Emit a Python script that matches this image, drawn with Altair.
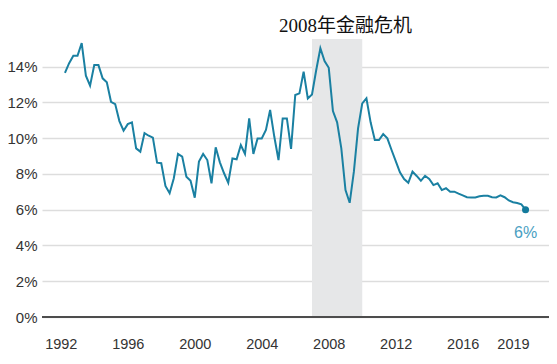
import altair as alt
import pandas as pd

# Quarterly growth (%), first value is 1992 Q2, last is 2019 Q4
growth = [
    13.66, 14.2, 14.61,
    14.61, 15.32, 13.5, 12.94,
    14.09, 14.09, 13.35, 13.13,
    12.04, 11.91, 10.96, 10.42,
    10.79, 10.89, 9.43, 9.25,
    10.29, 10.14, 10.03, 8.63,
    8.6, 7.33, 6.92, 7.76,
    9.12, 8.97, 7.85, 7.62,
    6.67, 8.69, 9.12, 8.78,
    7.48, 9.49, 8.65, 8.04,
    7.51, 8.87, 8.82, 9.62,
    9.12, 11.11, 9.12, 9.99,
    9.99, 10.46, 11.58, 10.08,
    8.78, 11.11, 11.11, 9.4,
    12.42, 12.51, 13.72, 12.23,
    12.45, 13.8, 15.03, 14.32,
    13.94, 11.52, 10.89, 9.43,
    7.1, 6.39, 8.13, 10.55,
    11.95, 12.23, 10.89, 9.9,
    9.9, 10.23, 9.99, 9.34,
    8.72, 8.09, 7.72, 7.51,
    8.13, 7.89, 7.62, 7.9,
    7.72, 7.38, 7.48, 7.1,
    7.2, 7.01, 7.01, 6.9,
    6.8, 6.7, 6.69, 6.69,
    6.75, 6.78, 6.78, 6.7,
    6.69, 6.8, 6.7, 6.52,
    6.42, 6.38, 6.3, 6.0,
]
start_year = 1992
start_quarter = 2
x_tick_labels = [1992, 1996, 2000, 2004, 2008, 2012, 2016, 2019]
y_tick_values = [0, 2, 4, 6, 8, 10, 12, 14]
crisis_start = [2007.0]
crisis_end = [2010.0]
crisis_label = ["2008年金融危机"]

time = [start_year + (start_quarter - 1 + i) / 4 for i in range(len(growth))]
df = pd.DataFrame({"t": time, "g": growth})
last = df.tail(1).copy()
last["label"] = [f"{v:.0f}%" for v in last["g"]]

crisis = pd.DataFrame({
    "start": crisis_start,
    "end": crisis_end,
    "mid": [2009.0],
    "top": [15.96],
    "label": crisis_label,
})

X_DOMAIN = [1990.88, 2021.15]
Y_DOMAIN = [0, 15.55]
LINE = "#1a80a2"

xscale = alt.Scale(domain=X_DOMAIN, nice=False, zero=False)
yscale = alt.Scale(domain=Y_DOMAIN, nice=False, zero=True)

xaxis = alt.Axis(values=x_tick_labels, format="d", title=None, grid=False,
                 ticks=False, domain=False, labelPadding=20, labelFontSize=14.5,
                 labelColor="#333333", labelFont="Liberation Sans",
                 labelOverlap=False, labelFlush=False)
yaxis = alt.Axis(values=y_tick_values, labelExpr="datum.value + '%'", title=None,
                 ticks=False, domain=False, grid=True, gridColor="#dddddd",
                 gridWidth=1.5, labelPadding=5, labelFontSize=15,
                 labelColor="#333333", labelFont="Liberation Sans",
                 labelOverlap=False, labelFlush=False)

shade = alt.Chart(crisis).mark_rect(color="#e6e7e8").encode(
    x=alt.X("start:Q", scale=xscale, axis=xaxis),
    x2="end:Q",
    y=alt.datum(0, scale=yscale, axis=yaxis),
    y2=alt.datum(Y_DOMAIN[1]),
)

zero = alt.Chart(crisis).mark_rule(color="#4d4d4d", strokeWidth=2).encode(
    y=alt.datum(0, scale=yscale, axis=yaxis),
)

line = alt.Chart(df).mark_line(color=LINE, strokeWidth=2).encode(
    x=alt.X("t:Q", scale=xscale, axis=xaxis),
    y=alt.Y("g:Q", scale=yscale, axis=yaxis),
)

dot = alt.Chart(last).mark_circle(size=50, color="#137a9c", opacity=1).encode(
    x=alt.X("t:Q", scale=xscale, axis=xaxis),
    y=alt.Y("g:Q", scale=yscale, axis=yaxis),
)

end_label = alt.Chart(last).mark_text(
    dy=23, fontSize=16, color="#4aa0c2", font="Liberation Sans", align="center",
    baseline="middle",
).encode(
    x=alt.X("t:Q", scale=xscale, axis=xaxis),
    y=alt.Y("g:Q", scale=yscale, axis=yaxis),
    text="label:N",
)

title = alt.Chart(crisis).mark_text(
    fontSize=19, font="Liberation Serif, Noto Sans CJK SC", color="#111111",
    align="center", baseline="alphabetic",
).encode(
    x=alt.X("mid:Q", scale=xscale, axis=xaxis),
    y=alt.Y("top:Q", scale=yscale, axis=yaxis),
    text="label:N",
)

chart = alt.layer(shade, zero, line, dot, end_label, title).properties(
    width=507,
    height=278,
    autosize=alt.AutoSizeParams(type="none"),
    padding={"left": 34, "top": 31, "right": 0, "bottom": 45},
    background="white",
).configure_view(stroke=None)

chart.save("out.html", embed_options={"renderer": "svg", "actions": False})
